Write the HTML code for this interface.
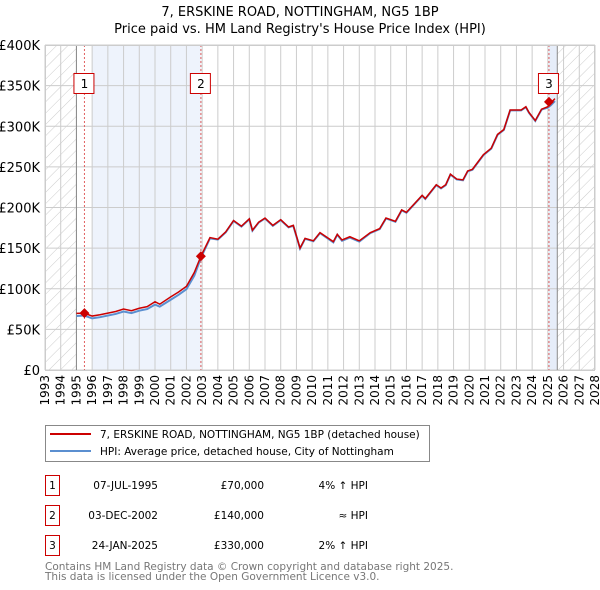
<!DOCTYPE html>
<html><head><meta charset="utf-8"><style>
body{margin:0;background:#fff;font-family:"DejaVu Sans","Liberation Sans",sans-serif;}
svg{display:block}
</style></head><body>
<svg id="chart" width="600" height="590" xmlns="http://www.w3.org/2000/svg">
<defs><pattern id="hatch" width="8" height="8" patternUnits="userSpaceOnUse" patternTransform="rotate(45)"><line x1="0" y1="0" x2="0" y2="8" stroke="#ccc" stroke-width="1"/></pattern></defs>
<text x="300" y="16" text-anchor="middle" font-size="13">7, ERSKINE ROAD, NOTTINGHAM, NG5 1BP</text>
<text x="300" y="33" text-anchor="middle" font-size="13">Price paid vs. HM Land Registry's House Price Index (HPI)</text>
<g id="bg"></g><g id="grid"></g><g id="series"></g><g id="marks"></g><g id="axes"></g>
<g>
<rect x="45.5" y="425.5" width="384" height="36" fill="#fff" stroke="#888"/>
<line x1="50" y1="434" x2="91" y2="434" stroke="#cc0000" stroke-width="2"/>
<text x="100" y="438" font-size="10.5">7, ERSKINE ROAD, NOTTINGHAM, NG5 1BP (detached house)</text>
<line x1="50" y1="451" x2="91" y2="451" stroke="#5b8fd0" stroke-width="2"/>
<text x="100" y="455" font-size="10.5">HPI: Average price, detached house, City of Nottingham</text>
</g>
<g font-size="10.5">
<rect x="45.5" y="475.5" width="14" height="20" fill="none" stroke="#cc0000"/><text x="52.5" y="489" text-anchor="middle">1</text>
<text x="158" y="489" text-anchor="end">07-JUL-1995</text><text x="264" y="489" text-anchor="end">£70,000</text><text x="368" y="489" text-anchor="end">4% ↑ HPI</text>
<rect x="45.5" y="505.5" width="14" height="20" fill="none" stroke="#cc0000"/><text x="52.5" y="519" text-anchor="middle">2</text>
<text x="158" y="519" text-anchor="end">03-DEC-2002</text><text x="264" y="519" text-anchor="end">£140,000</text><text x="368" y="519" text-anchor="end">≈ HPI</text>
<rect x="45.5" y="535.5" width="14" height="20" fill="none" stroke="#cc0000"/><text x="52.5" y="549" text-anchor="middle">3</text>
<text x="158" y="549" text-anchor="end">24-JAN-2025</text><text x="264" y="549" text-anchor="end">£330,000</text><text x="368" y="549" text-anchor="end">2% ↑ HPI</text>
</g>
<text x="45" y="570" font-size="10.5" fill="#777">Contains HM Land Registry data © Crown copyright and database right 2025.</text>
<text x="45" y="580" font-size="10.5" fill="#777">This data is licensed under the Open Government Licence v3.0.</text>
</svg>
<script>
const yTicks=[0,50000,100000,150000,200000,250000,300000,350000,400000];
const yTickLabels=["£0","£50K","£100K","£150K","£200K","£250K","£300K","£350K","£400K"];
const years=[1993,1994,1995,1996,1997,1998,1999,2000,2001,2002,2003,2004,2005,2006,2007,2008,2009,2010,2011,2012,2013,2014,2015,2016,2017,2018,2019,2020,2021,2022,2023,2024,2025,2026,2027,2028];
const priceT=[1995.0,1995.5,1996.0,1996.5,1997.0,1997.5,1998.0,1998.5,1999.0,1999.5,2000.0,2000.3,2001.0,2001.5,2002.0,2002.5,2002.92,2003.5,2004.0,2004.5,2005.0,2005.5,2006.0,2006.2,2006.6,2007.0,2007.5,2008.0,2008.5,2008.8,2009.23,2009.55,2010.08,2010.5,2011.35,2011.6,2011.9,2012.4,2013.0,2013.7,2014.3,2014.7,2015.3,2015.7,2016.0,2017.0,2017.2,2017.9,2018.2,2018.5,2018.8,2019.2,2019.6,2019.9,2020.2,2020.9,2021.4,2021.8,2022.2,2022.6,2023.3,2023.6,2023.8,2024.2,2024.6,2025.0,2025.2,2025.45];
const priceV=[69700,70000,66400,68000,70000,72000,75000,73000,76000,78000,84000,81000,90000,96000,103000,120000,140000,163000,161000,170000,184000,177000,186000,172000,182000,187000,178000,185000,176000,178000,150000,162000,159000,169000,158000,167000,160000,164000,159000,169000,174000,187000,183000,197000,194000,215000,211000,228000,224000,228000,241000,235000,234000,245000,247000,265000,273000,290000,296000,320000,320000,324000,317000,307000,321000,324000,329000,334000];
const hpiV=[66500,67000,63500,65000,67000,69000,72000,70000,73000,75000,80500,78000,86500,92500,99500,116000,138000,162000,160500,169500,183500,176500,185500,171500,181500,186500,177500,184500,175500,177500,149500,161500,158500,168500,157000,166500,159000,163000,158000,168500,173500,186500,182500,196500,193500,214500,210500,227500,223500,227500,240500,234500,233500,244500,246500,264500,272500,289500,295500,319500,319500,323500,316500,306500,320500,323000,326000,331000];
const saleT=[1995.51,2002.92,2025.07];
const saleV=[70000,140000,330000];
const saleLabels=["1","2","3"];
const NS="http://www.w3.org/2000/svg";
const L=45,R=595,T=45,B=370;
function xs(t){return L+(t-1993)/(2028-1993)*(R-L);}
function ys(v){return B-v/400000*(B-T);}
function mk(tag,attrs,parent){const e=document.createElementNS(NS,tag);for(const k in attrs)e.setAttribute(k,attrs[k]);document.getElementById(parent).appendChild(e);return e;}
let e;
e=mk('rect',{x:L,y:T,width:xs(1995)-L,height:B-T,fill:'url(#hatch)'},'bg');


e=mk('rect',{x:xs(1996),y:T,width:xs(saleT[1])-xs(1996),height:B-T,fill:'#eef3fc'},'bg');


e=mk('rect',{x:xs(saleT[2]),y:T,width:xs(2025.6)-xs(saleT[2]),height:B-T,fill:'#e6edf9'},'bg');


e=mk('rect',{x:xs(2025.6),y:T,width:R-xs(2025.6),height:B-T,fill:'url(#hatch)'},'bg');


years.forEach(y=>{const x=xs(y);
 e=mk('line',{x1:x,x2:x,y1:T,y2:B,stroke:'#ccc'},'grid');
 
 
 e=mk('text',{x:0,y:0,'font-size':12,transform:`translate(${x+4},${B+5}) rotate(-90)`,'text-anchor':'end'},'axes');
 e.textContent=y;
 
 
});
yTicks.forEach((v,i)=>{const y=ys(v);
 e=mk('line',{x1:L,x2:R,y1:y,y2:y,stroke:'#ccc'},'grid');
 
 
 e=mk('text',{x:L-5,y:y+5,'font-size':13,'text-anchor':'end'},'axes');
 e.textContent=yTickLabels[i];
 
 
});
e=mk('line',{x1:xs(1995),x2:xs(1995),y1:T,y2:B,stroke:'#888'},'grid');


e=mk('line',{x1:xs(2025.6),x2:xs(2025.6),y1:T,y2:B,stroke:'#888'},'grid');


e=mk('polyline',{points:priceT.map((t,i)=>xs(t)+','+ys(hpiV[i])).join(' '),fill:'none',stroke:'#5b8fd0','stroke-width':2},'series');


e=mk('polyline',{points:priceT.map((t,i)=>xs(t)+','+ys(priceV[i])).join(' '),fill:'none',stroke:'#cc0000','stroke-width':1.5},'series');


saleT.forEach((t,i)=>{const x=xs(t);
 e=mk('line',{x1:x,x2:x,y1:T,y2:B,stroke:'#e06060','stroke-dasharray':'2,2'},'marks');
 
 
 const y=ys(saleV[i]);
 e=mk('path',{d:`M${x-5},${y} L${x},${y-5} L${x+5},${y} L${x},${y+5} Z`,fill:'#cc0000'},'marks');
 
 
 e=mk('rect',{x:x-10.5,y:73.5,width:20,height:20,fill:'#fff',stroke:'#cc0000'},'marks');
 
 
 e=mk('text',{x:x,y:88,'font-size':12,'text-anchor':'middle'},'marks');
 e.textContent=saleLabels[i];
 
 
});
e=mk('rect',{x:L+0.5,y:T+0.5,width:R-L-1,height:B-T,fill:'none',stroke:'#ccc'},'axes');


</script>
</body></html>
